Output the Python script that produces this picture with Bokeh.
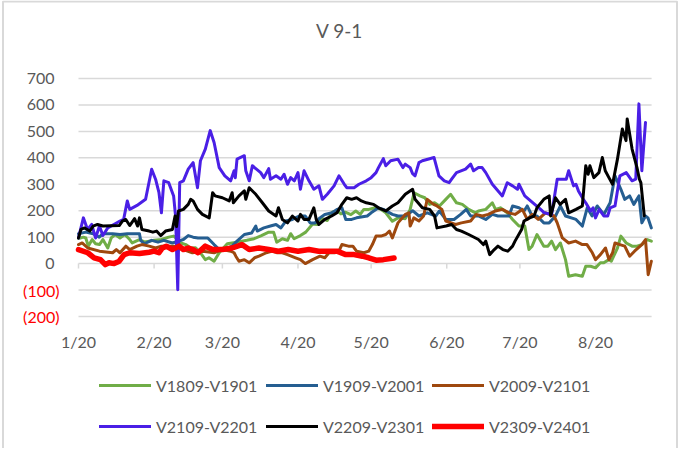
from bokeh.plotting import figure
from bokeh.models import Range1d, Legend, LegendItem
from bokeh.core.properties import value
from bokeh.embed import file_html
from bokeh.resources import INLINE

# ---------------- data (x = days since 1/20) ----------------
MONTH_TICKS = [0, 31, 59, 90, 120, 151, 181, 212]
MONTH_LABELS = ["1/20", "2/20", "3/20", "4/20", "5/20", "6/20", "7/20", "8/20"]
Y_TICKS = [-200, -100, 0, 100, 200, 300, 400, 500, 600, 700]
TITLE = "V 9-1"

SERIES_NAMES = ["V1809-V1901", "V1909-V2001", "V2009-V2101",
                "V2109-V2201", "V2209-V2301", "V2309-V2401"]

g_x = [0, 2, 3, 4, 5.6, 7, 8.6, 10, 12, 13.4, 15, 17, 19, 21, 22, 25, 27, 29, 31, 34, 37, 39, 40, 42, 44, 46,
       48, 50, 52, 53.5, 55.6, 57.7, 61, 65, 69, 72, 75, 78, 80, 81.3, 83.6, 85.7, 87, 88.4, 91, 93.2, 96, 98,
       100, 102, 104, 106, 107.6, 109.6, 111.7, 113.7, 115.5, 117, 119, 122, 124, 126, 128.7, 131, 134, 136,
       137.6, 140, 142, 144, 146, 148, 150.6, 152.6, 155, 157.4, 160, 162.8, 164, 167, 169.7, 171, 173, 175.8,
       178, 180.6, 183, 184.7, 186, 188, 190.8, 192.5, 194, 195.6, 197.6, 199.7, 201, 203.8, 206.6, 208, 210,
       212, 214, 215.4, 217.5, 218.5, 221, 222.4, 224.6, 227, 229, 231, 233.2, 234.9]
g_y = [95, 100, 97, 66, 91, 75, 72, 91, 59, 97, 110, 97, 110, 91, 78, 91, 82, 85, 88, 91, 100, 104, 97, 78, 72, 59,
       60, 41, 15, 22, 9, 41, 75, 81, 88, 94, 106, 119, 119, 81, 94, 88, 113, 94, 106, 119, 150, 148,
       170, 163, 194, 200, 188, 194, 185, 199, 186, 205, 205, 212, 205, 192, 160, 173, 170, 205,
       268, 256, 249, 224, 230, 218, 243, 262, 230, 224, 205, 192, 199, 205, 230, 205, 211, 192,
       167, 142, 142, 53, 66, 110, 66, 66, 85, 53, 78, 15, -48, -42, -48, -10, -10,
       -16, 3, 3, 15, 9, 59, 104, 78, 66, 66, 72, 91, 85]

b_x = [0, 3, 6, 8.5, 10, 14, 17, 20, 23, 25, 25.5, 27, 30, 32.6, 35, 38.5, 41, 43, 45, 47, 49, 53, 55.6, 57.7,
       60, 63, 65, 68, 71, 72.7, 73.3, 76, 78.7, 81, 83, 85, 87.7, 90.5, 93, 95, 97, 99, 101, 104, 106, 108,
       109.6, 112, 114, 118.4, 120, 123, 125, 128.7, 131, 134, 137, 139.6, 143, 146.5, 148, 150.6, 154, 156.7,
       159, 160.8, 164, 167, 169.7, 172, 174.5, 176.5, 178, 180.6, 182.7, 184, 186, 188, 190.8, 193, 195.6,
       197.6, 199.7, 204, 206.6, 208.6, 210.6, 212.7, 215.4, 218, 220, 222.4, 224, 226, 227.7, 229.8, 231,
       232.5, 233.5, 234.9]
b_y = [113, 119, 113, 100, 113, 113, 110, 113, 113, 113, 88, 75, 88, 81, 88, 78, 85, 91, 106, 100, 97, 97, 72, 53,
       53, 66, 85, 110, 116, 142, 123, 135, 142, 148, 135, 161, 167, 180, 180, 154, 154, 173, 186, 192, 205, 211,
       167, 167, 173, 180, 192, 211, 205, 186, 180, 180, 200, 180, 192, 180, 199, 167, 167, 186,
       205, 180, 180, 167, 186, 180, 180, 180, 218, 211, 199, 218, 180, 180, 154, 154, 180,
       218, 180, 167, 142, 211, 180, 218, 186, 230, 332, 281, 243, 256, 224, 256, 154,
       180, 173, 135]

br_x = [0, 1.5, 3.8, 8.6, 14, 15.5, 17, 19.4, 21, 24, 26, 29, 31.6, 34, 39, 43, 46.7, 51, 55.6, 59, 62.4, 63.8,
        64.5, 65.8, 68, 70, 72.2, 74, 77, 79.5, 81.5, 83.6, 85.7, 89, 91, 93, 96, 99, 101, 102.7, 105, 106.8,
        108, 110.7, 112.5, 114, 117, 119, 120.5, 122, 124, 126, 127.5, 128.7, 131, 134, 135.5, 136, 137.5,
        139.6, 141.5, 143, 145.6, 147, 149, 150.6, 154.6, 157, 160.8, 163, 165.6, 168, 171, 173.8, 176.5, 179,
        182, 184, 186, 188.5, 191.5, 195, 196.3, 198.4, 201, 203.8, 206.6, 208.5, 210.7, 212, 214, 216.1,
        217.5, 219, 220, 222, 224, 226, 228, 231, 232.5, 233.6, 234.9]
br_y = [72, 78, 59, 47, 41, 53, 41, 66, 53, 66, 72, 66, 59, 66, 66, 53, 41, 47, 41, 53, 47, 41,
        28, 9, 15, 3, 22, 28, 41, 47, 41, 41, 34, 22, 15, 0, 15, 28, 22, 41, 41, 47,
        72, 66, 66, 47, 41, 47, 72, 104, 104, 110, 123, 97, 154, 186, 192, 142, 173,
        161, 180, 243, 224, 218, 205, 161, 148, 154, 161, 186, 180, 186, 199, 205, 192, 186,
        205, 167, 186, 167, 192, 180, 154, 97, 78, 85, 72, 72, 41, 15, 34, 59,
        15, 41, 78, 72, 66, 28, 47, 72, 91, -42, 9]

pu_x = [0, 2, 3.7, 5.4, 7, 8.6, 10, 12, 14.5, 17, 18.5, 20, 21, 24, 27.5, 30, 31.6, 33, 34, 35, 37, 39, 39.8,
        40.7, 41.5, 43, 45, 47, 48.8, 50, 52, 54, 55.6, 57.7, 60, 62.4, 63.8, 64.3, 65, 68, 68.6, 70, 71.3,
        74.7, 76, 78, 78.7, 81, 83, 84.3, 85.7, 87, 88.5, 90, 91, 92.5, 94.5, 96.5, 98.6, 100, 102, 104.8,
        106.8, 109, 110, 113, 115, 118, 120, 122, 123, 125, 126, 128, 131, 133, 134, 136, 137, 138, 139.6,
        141, 145.8, 147.8, 150, 152, 153, 155, 158.7, 160.8, 162, 164, 165.5, 167, 169.7, 173.8, 175.8, 178,
        180, 180.6, 183, 185.4, 189.5, 191, 194, 196.3, 200, 201, 203, 204, 205, 207, 208, 210, 211, 212,
        213.5, 215.4, 217, 218, 220, 222, 224.6, 227, 228.5, 229.8, 231, 232.5]
pu_y = [97, 173, 129, 148, 97, 142, 106, 135, 148, 161, 167, 237, 205, 220, 243, 357, 319, 268, 192, 313, 306, 256,
        180, -99, 306, 313, 357, 382, 287, 389, 433, 503, 458, 363, 332, 313, 351, 325, 395, 408, 351, 313, 370,
        344, 325, 359, 319, 332, 319, 338, 300, 325, 313, 344, 281, 351, 313, 281, 294, 243, 262, 294,
        332, 300, 287, 287, 300, 313, 325, 344, 363, 397, 370, 389, 395, 363, 376, 363, 340, 332, 382,
        389, 401, 332, 313, 306, 319, 344, 357, 376, 351, 363, 363, 344, 300, 256, 306, 294,
        281, 300, 256, 237, 205, 192, 186, 319, 319, 351, 294, 300, 275, 243, 230, 199, 211, 173,
        205, 180, 180, 211, 218, 332, 344, 313, 319, 604, 351, 534]

bk_x = [0, 1, 2.5, 4.6, 6, 7.8, 10, 16.7, 18, 19.4, 21, 23, 24.2, 25, 26, 29, 30.5, 32, 33.7, 35.7, 38.5, 39.6,
        40.2, 41, 43, 45, 46, 47, 48.8, 50.8, 53.6, 55, 56, 59, 61.8, 63, 63.5, 65.8, 68, 68.6, 70, 72.7, 75.4,
        78, 81, 82, 83.6, 85.7, 87.7, 90, 91, 92.5, 94.5, 96.5, 97.5, 98.6, 101, 103.8, 106, 108, 110, 112,
        114, 116, 118, 121, 123, 126, 128.7, 131, 134, 137, 138, 141, 144, 146, 147, 150.7, 153, 155, 157,
        160, 164, 166, 167, 168.6, 170.5, 172, 174, 176, 178, 179, 181.7, 182.7, 185, 186.8, 188, 190.8, 193,
        193.6, 195.6, 197.5, 199.7, 201, 204, 206.6, 208, 209, 209.7, 211.3, 213.4, 214.8, 216, 217.5, 219,
        221, 223, 224.5, 225, 227, 229, 230, 230.6, 232]
bk_y = [97, 129, 135, 123, 142, 148, 142, 144, 161, 167, 144, 170, 142, 173, 129, 123, 119, 123, 106, 123, 129, 180,
        140, 199, 205, 224, 243, 237, 205, 186, 173, 268, 256, 249, 237, 268, 230, 256, 275, 243, 287, 262, 230,
        199, 180, 211, 167, 154, 180, 161, 186, 167, 167, 211, 167, 148, 167, 180, 192, 224, 249, 243,
        249, 237, 230, 224, 211, 199, 218, 230, 262, 281, 243, 211, 205, 180, 135, 142, 148, 129, 123,
        110, 91, 72, 85, 34, 53, 66, 53, 47, 66, 85, 129, 161, 173, 180, 211, 243, 256,
        180, 249, 224, 243, 192, 205, 218, 370, 338, 370, 325, 344, 401, 351, 325, 300,
        395, 509, 465, 547, 433, 363, 319, 306, 181]

rd_x = [0, 3.8, 6.4, 9, 11, 12.5, 14.6, 16.7, 18.7, 21, 25, 29, 31, 33, 34.4, 36, 38.5, 41.3, 43, 45, 47, 49,
        52, 55, 59, 63, 67, 70, 74, 78, 82, 86, 90, 94.5, 98.5, 102.7, 106, 109.6, 113, 116.4, 119, 122, 125,
        129.4]
rd_y = [53, 41, 22, 15, -4, 3, 0, 9, 34, 41, 38, 43, 47, 41, 59, 66, 53, 66, 53, 59, 53, 41,
        66, 53, 53, 59, 72, 53, 59, 53, 47, 53, 47, 53, 47, 47, 47, 34, 34, 28, 22, 13, 15,
        21]

COLORS = ["#70AD47", "#255E91", "#9E480E", "#4A1FE6", "#000000", "#FF0000"]
WIDTHS = [3, 3, 3, 3, 3, 5.5]
XS = [g_x, b_x, br_x, pu_x, bk_x, rd_x]
YS = [g_y, b_y, br_y, pu_y, bk_y, rd_y]

FONT = "Lato"
GREY = "#595959"
GRID = "#D9D9D9"

# ---------------- layout: the frame covers the whole canvas ----------------
W, H = 678, 448
PX_PER_DAY = 2.4387       # horizontal scale
PX_PER_UNIT = 0.264444    # vertical scale
X0_PX, Y0_PX = 78, 263.1  # canvas position of (day 0, value 0)

x_start = -X0_PX / PX_PER_DAY
x_end = (W - X0_PX) / PX_PER_DAY
y_end = Y0_PX / PX_PER_UNIT
y_start = (Y0_PX - H) / PX_PER_UNIT

p = figure(width=W, height=H, output_backend="svg", toolbar_location=None,
           x_range=Range1d(x_start, x_end), y_range=Range1d(y_start, y_end),
           x_axis_type=None, y_axis_type=None, min_border=0)
p.min_border_left = p.min_border_right = p.min_border_top = p.min_border_bottom = 0
p.outline_line_color = None

x_last = max(max(max(xs) for xs in XS), 235)

# chart-area border (left, top, right)
bx0 = x_start + 2.5 / PX_PER_DAY
bx1 = x_end - 1.5 / PX_PER_DAY
by1 = y_end - 1.0 / PX_PER_UNIT
p.line([bx0, bx0, bx1, bx1], [y_start, by1, by1, y_start], line_color=GRID, line_width=2)

# horizontal grid lines
p.segment(x0=[0] * len(Y_TICKS), y0=Y_TICKS, x1=[x_last] * len(Y_TICKS), y1=Y_TICKS,
          line_color=GRID, line_width=1.5)
# small tick marks below the zero line
p.segment(x0=MONTH_TICKS, y0=[0] * len(MONTH_TICKS), x1=MONTH_TICKS,
          y1=[-5 / PX_PER_UNIT] * len(MONTH_TICKS), line_color=GRID, line_width=1.5)

# y tick labels (negatives in red, in parentheses)
pos = [v for v in Y_TICKS if v >= 0]
neg = [v for v in Y_TICKS if v < 0]
p.text(x=[0] * len(pos), y=pos, text=[str(v) for v in pos], x_offset=-24,
       text_align="right", text_baseline="middle", text_font=value(FONT),
       text_font_size="16px", text_color=GREY)
p.text(x=[0] * len(neg), y=neg, text=[f"({-v})" for v in neg], x_offset=-19,
       text_align="right", text_baseline="middle", text_font=value(FONT),
       text_font_size="16px", text_color="#FF0000")

# x tick labels
p.text(x=MONTH_TICKS, y=[min(Y_TICKS)] * len(MONTH_TICKS), text=MONTH_LABELS, y_offset=25,
       text_align="center", text_baseline="middle", text_font=value(FONT),
       text_font_size="16px", text_color=GREY)

# title
p.text(x=[(x_start + x_end) / 2], y=[y_end - 30 / PX_PER_UNIT], text=[TITLE],
       text_align="center", text_baseline="middle", text_font=value(FONT),
       text_font_size="19px", text_color=GREY)

renderers = []
for xs, ys, c, w in zip(XS, YS, COLORS, WIDTHS):
    renderers.append(p.line(xs, ys, line_color=c, line_width=w,
                            line_join="round", line_cap="round"))

# legend: 2 rows x 3 columns, one Legend per entry for exact placement
COL_X = [99, 266, 432]
ROW_Y = [53, 12]
for i, (name, r) in enumerate(zip(SERIES_NAMES, renderers)):
    leg = Legend(items=[LegendItem(label=name, renderers=[r])],
                 location=(COL_X[i % 3], ROW_Y[i // 3]),
                 label_text_font=FONT, label_text_font_size="16px", label_text_color=GREY,
                 glyph_width=52, glyph_height=20, label_height=20, label_standoff=5,
                 padding=0, margin=0, border_line_color=None, background_fill_alpha=0)
    p.add_layout(leg)

open("out.html", "w").write(file_html(p, INLINE))
